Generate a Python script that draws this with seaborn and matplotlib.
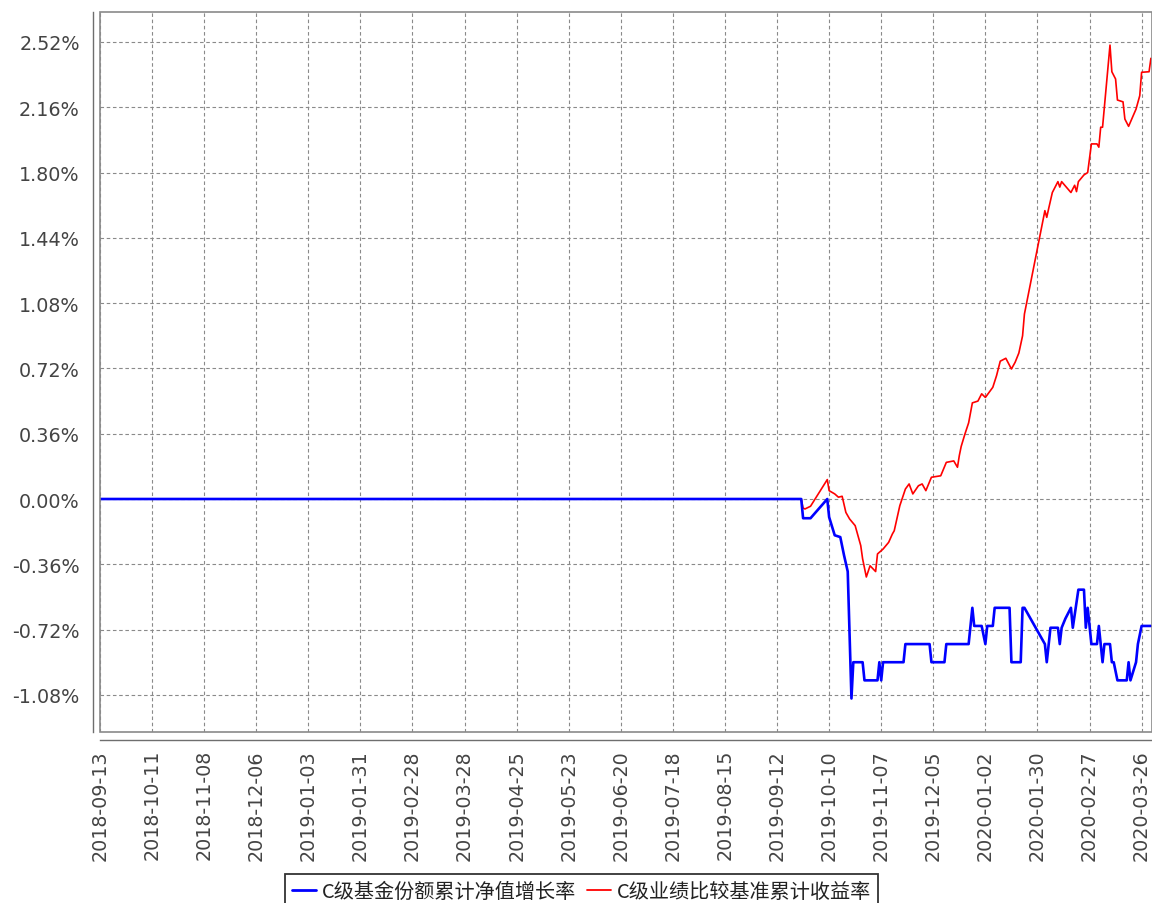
import numpy as np
import pandas as pd
import matplotlib
matplotlib.use("Agg")
import matplotlib.pyplot as plt
import seaborn as sns
from matplotlib.patches import Rectangle
from matplotlib.lines import Line2D

# ---------------- data ----------------
series_names = ["C级基金份额累计净值增长率", "C级业绩比较基准累计收益率"]

blue_dates = [
    "2018-09-13", "2019-09-25", "2019-09-26", "2019-09-30", "2019-10-09", "2019-10-10",
    "2019-10-13", "2019-10-16", "2019-10-18", "2019-10-20", "2019-10-22", "2019-10-23",
    "2019-10-28", "2019-10-29", "2019-11-05", "2019-11-06", "2019-11-07", "2019-11-08",
    "2019-11-19", "2019-11-20", "2019-12-03", "2019-12-04", "2019-12-11", "2019-12-12",
    "2019-12-24", "2019-12-26", "2019-12-27", "2019-12-31", "2020-01-02", "2020-01-03",
    "2020-01-06", "2020-01-07", "2020-01-15", "2020-01-16", "2020-01-21", "2020-01-22",
    "2020-01-23", "2020-02-03", "2020-02-04", "2020-02-06", "2020-02-10", "2020-02-11",
    "2020-02-12", "2020-02-14", "2020-02-17", "2020-02-18", "2020-02-21", "2020-02-24",
    "2020-02-25", "2020-02-26", "2020-02-28", "2020-03-02", "2020-03-03", "2020-03-05",
    "2020-03-06", "2020-03-09", "2020-03-10", "2020-03-11", "2020-03-13", "2020-03-18",
    "2020-03-19", "2020-03-20", "2020-03-23", "2020-03-24", "2020-03-26", "2020-03-31",
]
blue_values = [
    0.0, 0.0, -0.106, -0.106, 0.0, -0.10,
    -0.20, -0.21, -0.31, -0.40, -1.10, -0.90,
    -0.90, -1.00, -1.00, -0.90, -1.00, -0.90,
    -0.90, -0.80, -0.80, -0.90, -0.90, -0.80,
    -0.80, -0.60, -0.70, -0.70, -0.80, -0.70,
    -0.70, -0.60, -0.60, -0.90, -0.90, -0.60,
    -0.60, -0.80, -0.90, -0.71, -0.71, -0.80,
    -0.71, -0.66, -0.60, -0.71, -0.50, -0.50,
    -0.71, -0.60, -0.80, -0.80, -0.70, -0.90,
    -0.80, -0.80, -0.90, -0.90, -1.00, -1.00,
    -0.90, -1.00, -0.90, -0.80, -0.70, -0.70,
]

red_dates = [
    "2018-09-13", "2019-09-25", "2019-09-26", "2019-09-27", "2019-09-30", "2019-10-09",
    "2019-10-10", "2019-10-13", "2019-10-15", "2019-10-17", "2019-10-19", "2019-10-21",
    "2019-10-24", "2019-10-27", "2019-10-28", "2019-10-30", "2019-11-01", "2019-11-04",
    "2019-11-05", "2019-11-08", "2019-11-11", "2019-11-13", "2019-11-14", "2019-11-17",
    "2019-11-20", "2019-11-22", "2019-11-24", "2019-11-27", "2019-11-29", "2019-12-01",
    "2019-12-04", "2019-12-09", "2019-12-12", "2019-12-16", "2019-12-18", "2019-12-19",
    "2019-12-20", "2019-12-22", "2019-12-24", "2019-12-26", "2019-12-29", "2019-12-31",
    "2020-01-02", "2020-01-06", "2020-01-08", "2020-01-10", "2020-01-13", "2020-01-16",
    "2020-01-18", "2020-01-20", "2020-01-22", "2020-01-23", "2020-02-03", "2020-02-04",
    "2020-02-05", "2020-02-07", "2020-02-10", "2020-02-11", "2020-02-12", "2020-02-17",
    "2020-02-19", "2020-02-20", "2020-02-21", "2020-02-24", "2020-02-26", "2020-02-28",
    "2020-03-02", "2020-03-03", "2020-03-04", "2020-03-05", "2020-03-09", "2020-03-10",
    "2020-03-12", "2020-03-13", "2020-03-16", "2020-03-17", "2020-03-19", "2020-03-23",
    "2020-03-25", "2020-03-26", "2020-03-30", "2020-03-31",
]
red_values = [
    0.0, 0.0, -0.05, -0.055, -0.04, 0.107,
    0.046, 0.028, 0.01, 0.015, -0.074, -0.11,
    -0.147, -0.257, -0.33, -0.43, -0.368, -0.40,
    -0.303, -0.276, -0.239, -0.193, -0.175, -0.037,
    0.055, 0.083, 0.028, 0.073, 0.083, 0.046,
    0.12, 0.128, 0.202, 0.21, 0.175, 0.24,
    0.29, 0.358, 0.42, 0.53, 0.54, 0.58,
    0.56, 0.616, 0.68, 0.76, 0.776, 0.717,
    0.754, 0.805, 0.90, 1.02, 1.59, 1.553,
    1.60, 1.69, 1.75, 1.72, 1.75, 1.69,
    1.73, 1.695, 1.75, 1.787, 1.80, 1.958,
    1.958, 1.94, 2.05, 2.05, 2.503, 2.356,
    2.316, 2.20, 2.19, 2.095, 2.055, 2.15,
    2.224, 2.353, 2.356, 2.43,
]

x_tick_labels = [
    "2018-09-13", "2018-10-11", "2018-11-08", "2018-12-06", "2019-01-03", "2019-01-31",
    "2019-02-28", "2019-03-28", "2019-04-25", "2019-05-23", "2019-06-20", "2019-07-18",
    "2019-08-15", "2019-09-12", "2019-10-10", "2019-11-07", "2019-12-05", "2020-01-02",
    "2020-01-30", "2020-02-27", "2020-03-26",
]
y_ticks = [-1.08, -0.72, -0.36, 0.00, 0.36, 0.72, 1.08, 1.44, 1.80, 2.16, 2.52]

# ---------------- style ----------------
sns.set_style("white")
plt.rcParams["font.family"] = ["DejaVu Sans", "Noto Sans CJK SC"]

W, H = 1152, 904
fig = plt.figure(figsize=(W / 100, H / 100), dpi=100)
ax = fig.add_axes([100 / W, 1 - 733 / H, (1152 - 100) / W, (733 - 13) / H])

df_blue = pd.DataFrame({"date": pd.to_datetime(blue_dates), "value": blue_values})
df_red = pd.DataFrame({"date": pd.to_datetime(red_dates), "value": red_values})

sns.lineplot(data=df_red, x="date", y="value", ax=ax, color="#ff0000",
             linewidth=1.2, estimator=None, sort=False, zorder=3)
sns.lineplot(data=df_blue, x="date", y="value", ax=ax, color="#0000ff",
             linewidth=1.9, estimator=None, sort=False, zorder=4)

ax.set_xlim(pd.Timestamp("2018-09-13"), pd.Timestamp("2020-03-31 14:00"))
ax.set_ylim(-1.2848, 2.6854)

xt = pd.to_datetime(x_tick_labels)
ax.set_xticks(xt)
ax.set_xticklabels(x_tick_labels)
ax.set_yticks(y_ticks)
ax.set_yticklabels([f"{v:.2f}%" for v in y_ticks])

ax.set_xlabel("")
ax.set_ylabel("")

grid_kw = dict(color="#8a8a8a", linestyle=(0, (3.2, 2.4)), linewidth=0.8)
ax.grid(True, axis="both", **grid_kw)
ax.set_axisbelow(True)

for s in ["top", "right"]:
    ax.spines[s].set_visible(False)
ax.spines["left"].set_position(("outward", 5.0))
ax.spines["bottom"].set_position(("outward", 5.8))
for s in ["left", "bottom"]:
    ax.spines[s].set_color("#6e6e6e")
    ax.spines[s].set_linewidth(1.0)

ax.add_patch(Rectangle((0, 0), 1, 1, transform=ax.transAxes, fill=False,
                       edgecolor="#8a8a8a", linewidth=1.2, clip_on=False, zorder=5))

ax.tick_params(axis="both", which="major", direction="out", length=3,
               width=0.9, color="#6e6e6e", labelcolor="#444444", labelsize=13.8)
ax.tick_params(axis="y", pad=6.5)
ax.tick_params(axis="x", pad=3.5, labelrotation=90)

handles = [Line2D([], [], color="#0000ff", linewidth=2.0),
           Line2D([], [], color="#ff0000", linewidth=1.3)]
leg = fig.legend(handles, series_names, loc="upper center",
                 bbox_to_anchor=(581.5 / W, 1 - 875 / H), ncol=2,
                 frameon=True, fancybox=False, edgecolor="black",
                 prop={"family": ["Noto Sans CJK SC", "DejaVu Sans"], "size": 14.5},
                 handlelength=1.2, handletextpad=0.3, columnspacing=0.5,
                 borderpad=0.35, borderaxespad=0)
leg.get_frame().set_linewidth(1.3)
for t in leg.get_texts():
    t.set_color("#222222")

fig.savefig("out.png", dpi=100)
